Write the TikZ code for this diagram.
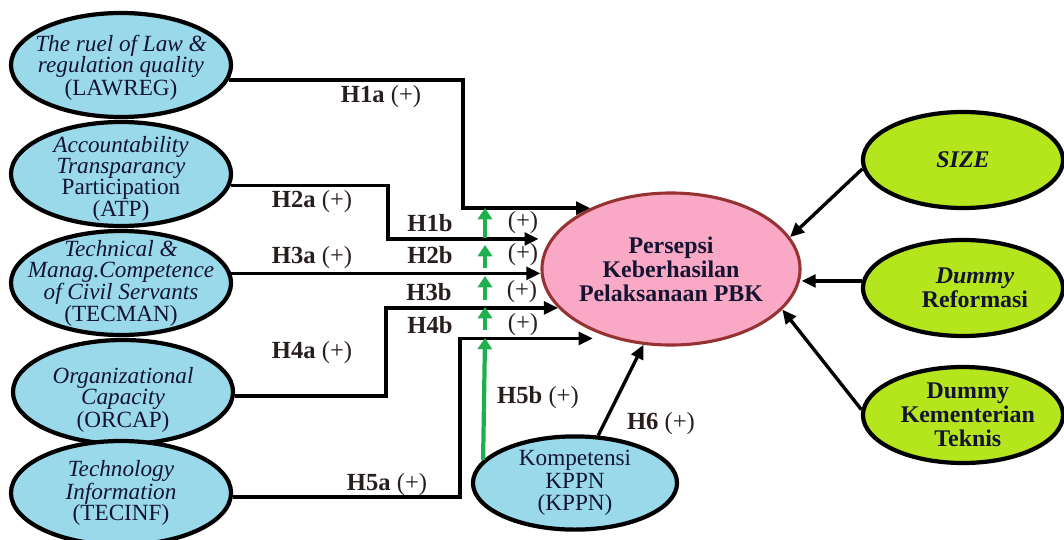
\documentclass[tikz,border=0pt]{standalone}
\usepackage{fontspec}
\setmainfont{Liberation Serif}
\usetikzlibrary{shapes.geometric,arrows.meta}

\tikzset{
  leftoval/.style={ellipse, draw=black, line width=3pt, fill=ovalblue, inner sep=0pt,
    minimum width=5.5cm, minimum height=2.6cm},
  rightoval/.style={ellipse, draw=black, line width=3pt, fill=ovalgreen, inner sep=0pt,
    minimum width=5cm, minimum height=2.4cm},
  ovaltext/.style={align=center, text=ovalink, font=\fontsize{16.5}{15}\selectfont},
  boldtext/.style={align=center, text=ovalink, font=\bfseries\fontsize{17}{17}\selectfont},
  hlabel/.style={text=labelink, font=\fontsize{17.5}{18}\selectfont},
  arr/.style={-{Triangle[length=10pt,width=9pt]}, line width=2.4pt},
  garr/.style={-{Triangle[length=8pt,width=10pt]}, line width=3pt, draw=greenarrow},
}

\begin{document}
\begin{tikzpicture}[x=0.025cm, y=-0.025cm]
        % Define colors
        \definecolor{ovalblue}{RGB}{153, 217, 234}   % light blue
        \definecolor{ovalgreen}{RGB}{181, 230, 29}   % lime
        \definecolor{pbkpink}{RGB}{249, 168, 198}    % rose
        \definecolor{pbkborder}{RGB}{150, 50, 50}    % dark red
        \definecolor{greenarrow}{RGB}{30, 176, 76}   % green
        \definecolor{ovalink}{RGB}{20, 20, 50}
        \definecolor{labelink}{RGB}{40, 30, 30}

        \useasboundingbox (0,0) rectangle (1064,539);

        % Independent variables
        \node[leftoval, label={[ovaltext, yshift=-0.07cm]center:{\textit{The ruel of Law \&}\\\textit{regulation quality}\\(LAWREG)}}] (law) at (121,65) {};
        \node[leftoval, label={[ovaltext, yshift=-0.12cm]center:{\textit{Accountability}\\\textit{Transparancy}\\Participation\\(ATP)}}] (atp) at (121,174) {};
        \node[leftoval, label={[ovaltext]center:{\textit{Technical \&}\\\textit{Manag.Competence}\\\textit{of Civil Servants}\\(TECMAN)}}] (tecman) at (121,283) {};
        \node[leftoval, label={[ovaltext, yshift=-0.2cm]center:{\textit{Organizational}\\\textit{Capacity}\\(ORCAP)}}] (orcap) at (123,392) {};
        \node[leftoval, label={[ovaltext]center:{\textit{Technology}\\\textit{Information}\\(TECINF)}}] (tecinf) at (121,493) {};

        % Moderating variable
        \node[leftoval, minimum width=5.1cm, minimum height=2.33cm, label={[ovaltext, font=\fontsize{16.5}{16}\selectfont]center:{Kompetensi\\KPPN\\(KPPN)}}] (kppn) at (575,483) {};

        % Dependent variable
        \node[ellipse, draw=pbkborder, line width=2.2pt, fill=pbkpink, inner sep=0pt,
          minimum width=6.45cm, minimum height=3.8cm,
          label={[boldtext]center:{Persepsi\\Keberhasilan\\Pelaksanaan PBK}}] (pbk) at (671,269) {};

        % Control variables
        \node[rightoval, label={[boldtext]center:{\textit{SIZE}}}] (size) at (963,160) {};
        \node[rightoval, label={[boldtext, xshift=0.3cm]center:{\textit{Dummy}\\Reformasi}}] (reform) at (963,288) {};
        \node[rightoval, label={[boldtext, xshift=0.12cm]center:{Dummy\\Kementerian\\Teknis}}] (kem) at (963,415) {};

        % Bend points of the direct paths
        \coordinate (k1) at (463,150);
        \coordinate (k2) at (388,210);
        \coordinate (k4) at (386,350);
        \coordinate (k5) at (460,420);

        % Direct paths H1a - H5a
        \draw[arr] (law.-8) -| (k1) |- (pbk.143);
        \draw[arr, shorten >=0.3cm] (atp.-6) -| (k2) |- (pbk.166);
        \draw[arr] (tecman.5) -- (tecman.5 -| pbk.west);
        \draw[arr] (orcap.-2) -| (k4) |- (pbk.199);
        \draw[arr, shorten >=0.5cm] (tecinf.-2) -| (k5) |- (pbk.230);

        % KPPN to PBK
        \draw[arr] (kppn.64) -- (pbk.250);

        % Controls to PBK
        \draw[arr] (size.185) -- (pbk.15);
        \draw[arr] (reform.176) -- (reform.176 -| pbk.east);
        \draw[arr] (kem.177) -- (pbk.-20);

        % Moderation arrows
        \coordinate (g5top) at (485,338);
        \draw[garr] (kppn.166) -- (g5top);
        \coordinate (g1lo) at (485,238);
        \coordinate (g1hi) at (485,208);
        \draw[garr] (g1lo) -- (g1hi);
        \coordinate (g2lo) at (485,268);
        \coordinate (g2hi) at (485,245);
        \draw[garr] (g2lo) -- (g2hi);
        \coordinate (g3lo) at (485,300);
        \coordinate (g3hi) at (485,276);
        \draw[garr] (g3lo) -- (g3hi);
        \coordinate (g4lo) at (485,330);
        \coordinate (g4hi) at (485,307);
        \draw[garr] (g4lo) -- (g4hi);

        % Hypothesis labels
        \node[hlabel] (h1a) at (381,97) {\textbf{H1a} (+)};
        \node[hlabel] (h2a) at (312,202) {\textbf{H2a} (+)};
        \node[hlabel] (h3a) at (312,258) {\textbf{H3a} (+)};
        \node[hlabel] (h4a) at (312,353) {\textbf{H4a} (+)};
        \node[hlabel] (h5a) at (387,485) {\textbf{H5a} (+)};
        \node[hlabel] (h1b) at (430,223) {\textbf{H1b}};
        \node[hlabel] (h2b) at (430,255) {\textbf{H2b}};
        \node[hlabel] (h3b) at (429,292) {\textbf{H3b}};
        \node[hlabel] (h4b) at (430,325) {\textbf{H4b}};
        \node[hlabel] (p1) at (523,223) {(+)};
        \node[hlabel] (p2) at (523,255) {(+)};
        \node[hlabel] (p3) at (522,292) {(+)};
        \node[hlabel] (p4) at (523,325) {(+)};
        \node[hlabel] (h5b) at (538,398) {\textbf{H5b} (+)};
        \node[hlabel] (h6) at (661,424) {\textbf{H6} (+)};

\end{tikzpicture}
\end{document}
